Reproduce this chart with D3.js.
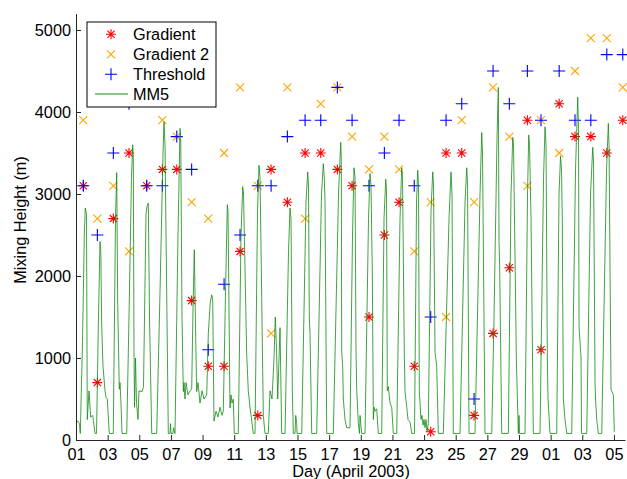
<!DOCTYPE html>
<html><head><meta charset="utf-8">
<script src="https://cdn.jsdelivr.net/npm/d3@7"></script>
<style>
html,body{margin:0;padding:0;background:#fff;}
svg{display:block;font-family:"Liberation Sans",Arial,Helvetica,sans-serif;}
</style></head>
<body>
<svg id="chart" width="627" height="479"></svg>
<script>
// ---- data ----
const xTickDays = [1,3,5,7,9,11,13,15,17,19,21,23,25,27,29,31,33,35];
const xTickLabels = ["01","03","05","07","09","11","13","15","17","19","21","23","25","27","29","01","03","05"];
const yTicks = [0,1000,2000,3000,4000,5000];
const seriesNames = ["Gradient","Gradient 2","Threshold","MM5"];

// sounding times (day of April 2003, fractional)
const soundingDays = [1.46,2.35,3.36,4.35,5.47,6.46,7.37,8.31,9.36,10.36,11.37,12.49,13.33,14.36,15.48,16.47,17.52,18.45,19.52,20.49,21.42,22.38,23.42,24.39,25.38,26.16,27.36,28.39,29.53,30.39,31.54,32.54,33.54,34.55,35.56];
const gradient  = [3100,700,2700,3500,3100,3300,3300,1700,900,900,2300,300,3300,2900,3500,3500,3300,3100,1500,2500,2900,900,100,3500,3500,300,1300,2100,3900,1100,4100,3700,3700,3500,3900];
const gradient2 = [3900,2700,3100,2300,null,3900,3700,2900,2700,3500,4300,3100,1300,4300,2700,4100,4300,3700,3300,3700,3300,2300,2900,1500,3900,2900,4300,3700,3100,3900,3500,4500,4900,4900,4300];
const threshold = [3100,2500,3500,4100,3100,3100,3700,3300,1100,1900,2500,3100,3100,3700,3900,3900,4300,3900,3100,3500,3900,3100,1500,3900,4100,500,4500,4100,4500,3900,4500,3900,3900,4700,4700];

// MM5 mixing height [day, metres]
const mm5Series = [[1.000,220],[1.126,230],[1.221,200],[1.272,80],[1.411,1200],[1.525,2500],[1.588,2830],[1.664,2750],[1.714,250],[1.822,600],[1.929,280],[2.056,300],[2.201,80],[2.296,80],[2.422,1500],[2.517,2420],[2.568,2300],[2.624,1400],[2.707,900],[2.833,600],[2.896,520],[2.978,500],[3.105,80],[3.358,80],[3.497,2700],[3.573,3260],[3.636,1650],[3.737,620],[3.781,700],[3.844,450],[3.908,80],[4.205,80],[4.350,1500],[4.508,3200],[4.584,3600],[4.622,3450],[4.666,1070],[4.698,400],[4.761,1000],[4.824,450],[4.919,250],[4.982,600],[5.172,590],[5.267,650],[5.425,2750],[5.488,2850],[5.570,2890],[5.646,1500],[5.785,80],[6.101,80],[6.310,1800],[6.499,3500],[6.562,3880],[6.626,3600],[6.834,80],[6.942,80],[6.973,200],[7.005,80],[7.131,80],[7.163,150],[7.258,80],[7.447,2500],[7.574,3800],[7.618,3700],[7.700,1500],[7.782,590],[7.827,700],[7.890,500],[7.953,700],[8.080,550],[8.206,600],[8.313,620],[8.396,1600],[8.478,2320],[8.566,1240],[8.629,590],[8.712,700],[8.838,450],[8.964,600],[9.091,500],[9.262,550],[9.363,1300],[9.489,1680],[9.578,1770],[9.641,1710],[9.723,230],[9.849,350],[9.976,280],[10.102,400],[10.229,300],[10.311,350],[10.450,1800],[10.564,2870],[10.608,2800],[10.734,390],[10.798,550],[10.861,450],[10.943,500],[11.006,80],[11.259,80],[11.430,2500],[11.537,3090],[11.588,3000],[11.790,1040],[11.891,600],[11.999,400],[12.207,80],[12.315,80],[12.473,2800],[12.567,3350],[12.631,3200],[12.738,1740],[12.839,300],[12.947,80],[13.155,80],[13.263,600],[13.389,500],[13.516,1000],[13.598,1500],[13.674,1100],[13.750,500],[13.832,1000],[13.895,1370],[14.002,80],[14.211,80],[14.432,2300],[14.527,2830],[14.590,2700],[14.672,620],[14.736,80],[14.843,80],[14.887,300],[14.951,200],[14.969,80],[15.267,80],[15.538,2900],[15.646,3270],[15.696,3100],[15.747,1490],[15.791,1300],[15.898,80],[16.214,80],[16.518,3000],[16.632,3370],[16.695,3200],[16.739,2900],[16.847,80],[17.264,80],[17.593,3000],[17.732,3630],[17.770,3400],[17.795,1070],[17.858,900],[17.896,500],[18.003,250],[18.111,150],[18.320,150],[18.477,2500],[18.572,3320],[18.636,3200],[18.699,1070],[18.743,620],[18.844,200],[18.920,80],[18.952,300],[19.059,80],[19.268,80],[19.489,2700],[19.584,3250],[19.647,3100],[19.729,2050],[19.793,250],[19.837,400],[19.900,350],[20.007,380],[20.108,80],[20.323,80],[20.469,2700],[20.576,3180],[20.627,3050],[20.677,600],[20.741,650],[20.848,450],[20.955,400],[21.057,80],[21.272,80],[21.480,2700],[21.588,3320],[21.638,3200],[21.752,1040],[21.796,590],[21.904,400],[21.986,250],[22.112,220],[22.220,80],[22.397,80],[22.523,2900],[22.599,3290],[22.650,3100],[22.700,590],[22.807,250],[22.871,300],[22.934,180],[22.997,250],[23.060,150],[23.124,250],[23.187,100],[23.269,200],[23.440,2800],[23.547,3270],[23.598,3100],[23.692,1070],[23.800,900],[23.901,80],[24.217,80],[24.577,2700],[24.704,3270],[24.767,3000],[24.849,80],[25.273,80],[25.589,2900],[25.697,3320],[25.747,3150],[25.842,80],[26.221,80],[26.537,3000],[26.644,3750],[26.695,3500],[26.853,80],[27.277,80],[27.422,1500],[27.612,3700],[27.694,4300],[27.738,2410],[27.776,2130],[27.909,80],[28.326,80],[28.496,3000],[28.604,3690],[28.654,3600],[28.812,1300],[28.831,1000],[28.958,80],[29.002,300],[29.034,80],[29.381,80],[29.539,3000],[29.615,3720],[29.666,3600],[29.742,2860],[29.761,2700],[29.906,80],[30.329,80],[30.551,3200],[30.646,3820],[30.709,3600],[30.791,1000],[30.835,500],[30.962,80],[31.385,80],[31.530,3000],[31.625,3460],[31.688,3300],[31.739,2650],[31.758,1900],[31.803,500],[31.910,250],[32.017,80],[32.333,80],[32.573,3300],[32.712,4180],[32.763,3800],[32.795,1380],[32.921,1000],[32.953,80],[33.067,80],[33.282,80],[33.522,3000],[33.661,3570],[33.711,3400],[33.806,700],[33.838,500],[33.914,250],[34.015,80],[34.230,80],[34.533,3300],[34.647,3860],[34.691,3600],[34.817,620],[34.963,550],[35.026,100]];

// ---- layout ----
const svg = d3.select("#chart");
const x = d3.scaleLinear().domain([1, 35.7]).range([76, 625]);
const y = d3.scaleLinear().domain([0, 5200]).range([440, 13.6]);
const FS = 16.3;
const axisColor = "#262626";

const cRed = "#ff0000", cOrange = "#ffa500", cBlue = "#0000ff", cGreen = "#138a13";

function starPath(r){ const d = r*0.72; return `M0,${-r}L0,${r}M${-r},0L${r},0M${-d},${-d}L${d},${d}M${-d},${d}L${d},${-d}`; }
function plusPath(r){ return `M0,${-r}L0,${r}M${-r},0L${r},0`; }
function xPath(r){ return `M${-r},${-r}L${r},${r}M${-r},${r}L${r},${-r}`; }

const markerDefs = [
  {vals: gradient,  path: starPath(5),  color: cRed},
  {vals: gradient2, path: xPath(4),     color: cOrange},
  {vals: threshold, path: plusPath(6),  color: cBlue}
];

const plot = svg.append("g");
markerDefs.forEach(m => {
  const pts = soundingDays.map((d,i)=>({d, v:m.vals[i]})).filter(p => p.v != null);
  plot.append("g").selectAll("path").data(pts).join("path")
    .attr("d", m.path)
    .attr("transform", p => `translate(${x(p.d)},${y(p.v)})`)
    .attr("fill","none").attr("stroke", m.color).attr("stroke-width", 1.1);
});

const line = d3.line().x(p => x(p[0])).y(p => y(p[1]));
plot.append("path").datum(mm5Series).attr("d", line)
  .attr("fill","none").attr("stroke", cGreen).attr("stroke-width", 0.8).attr("stroke-linejoin","round");

// ---- axes ----
const xAxis = d3.axisBottom(x).tickValues(xTickDays).tickFormat((d,i)=>xTickLabels[i]).tickSizeInner(-5).tickSizeOuter(0).tickPadding(8);
const gx = svg.append("g").attr("transform","translate(0,440)").call(xAxis);
const yAxis = d3.axisLeft(y).tickValues(yTicks).tickFormat(d3.format("d")).tickSizeInner(-5).tickSizeOuter(0).tickPadding(5);
const gy = svg.append("g").attr("transform","translate(76,0)").call(yAxis);
[gx, gy].forEach(g => {
  g.select(".domain").attr("stroke", axisColor).attr("stroke-width", 1);
  g.selectAll(".tick line").attr("stroke", axisColor);
  g.selectAll(".tick text").attr("fill","#000").attr("font-size", FS).attr("font-family",'"Liberation Sans",Arial,sans-serif');
});
gx.selectAll(".tick text").attr("dy","0.71em");

svg.append("text").attr("x", 351).attr("y", 477).attr("text-anchor","middle")
  .attr("font-size", FS).text("Day (April 2003)");
svg.append("text").attr("transform","translate(26,220) rotate(-90)").attr("text-anchor","middle")
  .attr("font-size", FS).text("Mixing Height (m)");

// ---- legend ----
const lg = svg.append("g");
lg.append("rect").attr("x", 87).attr("y", 22).attr("width", 129).attr("height", 85)
  .attr("fill","#fff").attr("stroke","#000").attr("stroke-width",1);
const rowY = [34.3, 54.3, 74.3, 94];
const legendMarks = [
  {path: starPath(5), color: cRed},
  {path: xPath(4), color: cOrange},
  {path: plusPath(6), color: cBlue}
];
legendMarks.forEach((m,i) => {
  lg.append("path").attr("d", m.path).attr("transform", `translate(111,${rowY[i]})`)
    .attr("fill","none").attr("stroke", m.color).attr("stroke-width",1.1);
});
lg.append("line").attr("x1",95).attr("x2",128).attr("y1",rowY[3]).attr("y2",rowY[3])
  .attr("stroke", cGreen).attr("stroke-width",1);
seriesNames.forEach((n,i) => {
  lg.append("text").attr("x",133).attr("y",rowY[i]).attr("dy","0.35em")
    .attr("font-size", FS).text(n);
});
</script>
</body></html>
